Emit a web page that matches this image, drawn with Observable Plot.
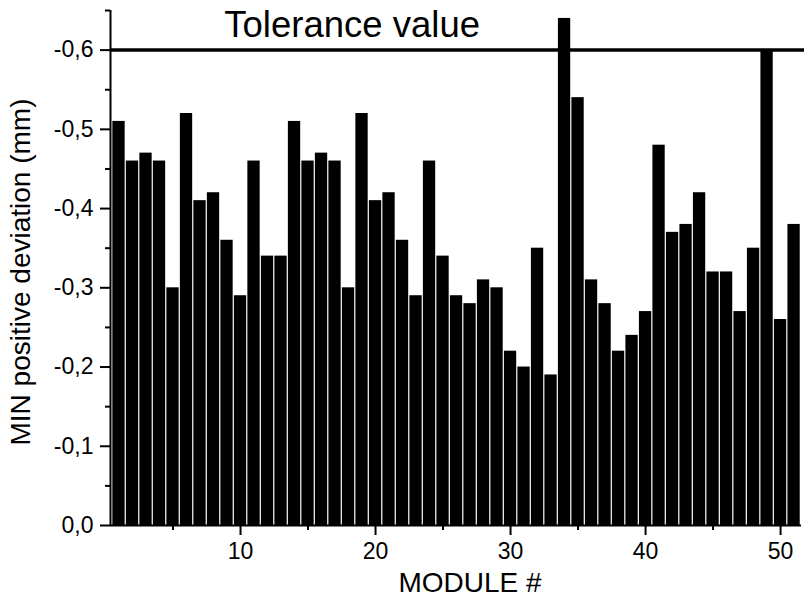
<!DOCTYPE html>
<html>
<head>
<meta charset="utf-8">
<script src="https://cdn.jsdelivr.net/npm/d3@7"></script>
<script src="https://cdn.jsdelivr.net/npm/@observablehq/plot@0.6"></script>
<style>
  html, body { margin: 0; padding: 0; background: #fff; }
  #chart svg { display: block; }
</style>
</head>
<body>
<div id="chart"></div>
<script>
// Module numbers and MIN positive deviation (mm)
const modules = d3.range(1, 52);
const deviations = [
  -0.51, -0.46, -0.47, -0.46, -0.30, -0.52, -0.41, -0.42, -0.36, -0.29,
  -0.46, -0.34, -0.34, -0.51, -0.46, -0.47, -0.46, -0.30, -0.52, -0.41,
  -0.42, -0.36, -0.29, -0.46, -0.34, -0.29, -0.28, -0.31, -0.30, -0.22,
  -0.20, -0.35, -0.19, -0.64, -0.54, -0.31, -0.28, -0.22, -0.24, -0.27,
  -0.48, -0.37, -0.38, -0.42, -0.32, -0.32, -0.27, -0.35, -0.60, -0.26,
  -0.38
];
const tolerance = [-0.6];
const toleranceLabel = ["Tolerance value"];
const xMajorTicks = [10, 20, 30, 40, 50];
const xMinorTicks = [5, 15, 25, 35, 45];
const yMajorTicks = [0, -0.1, -0.2, -0.3, -0.4, -0.5, -0.6];
const yMinorTicks = [-0.05, -0.15, -0.25, -0.35, -0.45, -0.55, -0.65];
const xLabel = "MODULE #";
const yLabel = "MIN positive deviation (mm)";

const data = modules.map((m, i) => ({module: m, value: deviations[i]}));
const fmt = d => d.toFixed(1).replace(".", ",");
const xDomain = [0.37, 51.55];
const yDomain = [0, -0.65];

const chart = Plot.plot({
  width: 804,
  height: 599,
  marginLeft: 110,
  marginRight: 3,
  marginTop: 10,
  marginBottom: 74,
  style: {fontFamily: "'Liberation Sans', Arial, sans-serif", color: "#000", background: "#fff"},
  x: {domain: xDomain, axis: null},
  y: {domain: yDomain, axis: null},
  marks: [
    Plot.rectY(data, {
      x1: d => d.module - 0.5,
      x2: d => d.module + 0.5,
      y: "value",
      insetLeft: 0.6,
      insetRight: 0.6,
      fill: "#000"
    }),
    Plot.ruleY(tolerance, {x1: xDomain[0], x2: 51.8, stroke: "#000", strokeWidth: 3.5}),
    Plot.text(toleranceLabel, {
      x: 8.8, y: tolerance[0], text: d => d, textAnchor: "start",
      lineAnchor: "bottom", dy: -13, fontSize: 36.5, fill: "#000"
    }),
    Plot.ruleX([xDomain[0]], {y1: 0, y2: yDomain[1], stroke: "#000", strokeWidth: 2}),
    Plot.ruleY([0], {x1: xDomain[0], x2: xDomain[1], stroke: "#000", strokeWidth: 2}),
    // tick lines (outward, major and minor)
    Plot.axisX(xMajorTicks, {tickSize: 10, tickFormat: () => "", strokeWidth: 2, label: null}),
    Plot.axisX(xMinorTicks, {tickSize: 5, tickFormat: () => "", strokeWidth: 2, label: null}),
    Plot.axisY(yMajorTicks, {tickSize: 10, tickFormat: () => "", strokeWidth: 2, label: null}),
    Plot.axisY(yMinorTicks, {tickSize: 5, tickFormat: () => "", strokeWidth: 2, label: null}),
    // tick labels
    Plot.text(xMajorTicks, {x: d => d, y: 0, text: d => String(d), lineAnchor: "top", dy: 17, fontSize: 23, fill: "#000"}),
    Plot.text(yMajorTicks, {x: xDomain[0], y: d => d, text: fmt, textAnchor: "end", lineAnchor: "middle", dx: -17, fontSize: 23, fill: "#000"}),
    Plot.text([yLabel], {
      frameAnchor: "left", rotate: -90, dx: -89, dy: 4, text: d => d,
      fontSize: 28, fill: "#000", lineAnchor: "middle", textAnchor: "middle"
    }),
    Plot.text([xLabel], {
      frameAnchor: "bottom", dx: 14, dy: 58, text: d => d,
      fontSize: 28, fill: "#000", lineAnchor: "middle", textAnchor: "middle"
    })
  ]
});
document.getElementById("chart").appendChild(chart);
</script>
</body>
</html>
